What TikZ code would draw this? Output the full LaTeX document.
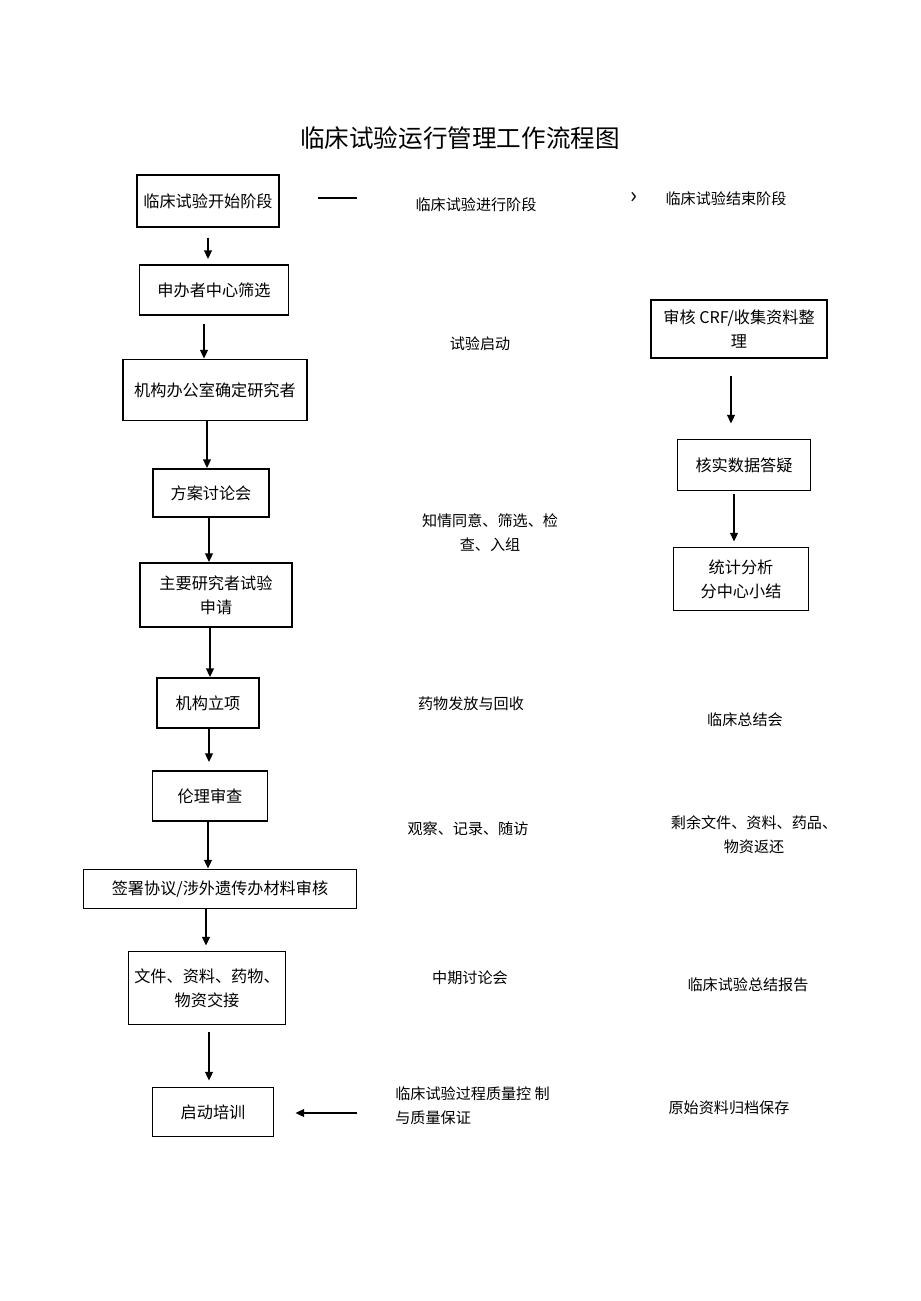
\documentclass[tikz,border=0pt]{standalone}
\usepackage{fontspec}
\newfontfamily\cjk{Noto Sans CJK SC}
\usetikzlibrary{arrows.meta}

\begin{document}
\begin{tikzpicture}[x=0.02cm,y=-0.02cm,font=\cjk,
  box/.style 2 args={draw,line width=1.1pt,align=center,inner sep=0pt,
    minimum width=#1cm,minimum height=#2cm,font=\cjk\fontsize{9.2}{13.6}\selectfont},
  note/.style={align=center,inner sep=0pt,font=\cjk\fontsize{8.6}{13.6}\selectfont},
  arr/.style={-{Triangle[width=4.5pt,length=5pt]},line width=0.9pt}]
\useasboundingbox (0,0) rectangle (920,1301);
\node[font=\cjk\fontsize{14}{16}\selectfont] (title) at (460,138) {临床试验运行管理工作流程图};
% left column
\node[box={2.84}{1.04}] (start) at (208,201) {临床试验开始阶段};
\node[box={2.98}{1.0}] (screen) at (214,290) {申办者中心筛选};
\node[box={3.68}{1.22}] (office) at (215,390) {机构办公室确定研究者};
\node[box={2.32}{0.96}] (plan) at (211,493) {方案讨论会};
\node[box={3.04}{1.28}] (apply) at (216,595) {主要研究者试验\\申请};
\node[box={2.04}{1.0}] (project) at (208,703) {机构立项};
\node[box={2.3}{1.0}] (ethics) at (210,796) {伦理审查};
\node[box={5.46}{0.78}] (sign) at (220,889) {签署协议/涉外遗传办材料审核};
\node[box={3.14}{1.46}] (handover) at (207,988) {文件、资料、药物、\\物资交接};
\node[box={2.42}{0.98}] (train) at (213,1112) {启动培训};
% middle column
\node[note] (run) at (476,205) {临床试验进行阶段};
\node[note] (kick) at (480,344) {试验启动};
\node[note] (consent) at (490,533) {知情同意、筛选、检\\查、入组};
\node[note] (drug) at (471,704) {药物发放与回收};
\node[note] (visit) at (468,829) {观察、记录、随访};
\node[note] (mid) at (470,978) {中期讨论会};
\node[note,align=left,anchor=west] (quality) at (395,1106) {临床试验过程质量控\ 制\\与质量保证};
% right column
\node[note] (finish) at (726,199) {临床试验结束阶段};
\node[note,font=\cjk\fontsize{13}{14}\selectfont] (chev) at (634,198) {›};
\node[box={3.52}{1.16}] (crf) at (739,329) {审核 CRF/收集资料整\\理};
\node[box={2.66}{1.02}] (verify) at (744,465) {核实数据答疑};
\node[box={2.7}{1.26}] (stat) at (741,579) {统计分析\\分中心小结};
\node[note] (meet) at (745,720) {临床总结会};
\node[note] (rest) at (754,835) {剩余文件、资料、药品、\\物资返还};
\node[note] (report) at (748,985) {临床试验总结报告};
\node[note] (archive) at (729,1108) {原始资料归档保存};

\coordinate (l1) at (318,198);
\coordinate (l2) at (357,198);
\draw[line width=1pt] (l1) -- (l2);
\coordinate (c1) at (357,1113);
\draw[arr,shorten >=0.42cm] (c1) -- (c1 -| train.east);

\draw[arr,shorten <=0.2cm,shorten >=0.1cm] (start.south) -- (start.south |- screen.north);
\draw[arr,shorten <=0.16cm] ([xshift=-0.2cm]screen.south) -- ([xshift=-0.2cm]screen.south |- office.north);
\draw[arr] ([xshift=-0.16cm]office.south) -- ([xshift=-0.16cm]office.south |- plan.north);
\draw[arr] ([xshift=-0.04cm]plan.south) -- ([xshift=-0.04cm]plan.south |- apply.north);
\draw[arr] ([xshift=-0.12cm]apply.south) -- ([xshift=-0.12cm]apply.south |- project.north);
\draw[arr,shorten >=0.16cm] ([xshift=0.02cm]project.south) -- ([xshift=0.02cm]project.south |- ethics.north);
\draw[arr] ([xshift=-0.04cm]ethics.south) -- ([xshift=-0.04cm]ethics.south |- sign.north);
\draw[arr,shorten >=0.1cm] ([xshift=-0.28cm]sign.south) -- ([xshift=-0.28cm]sign.south |- handover.north);
\draw[arr,shorten <=0.14cm,shorten >=0.12cm] ([xshift=0.04cm]handover.south) -- ([xshift=0.04cm]handover.south |- train.north);
\draw[arr,shorten <=0.34cm,shorten >=0.3cm] ([xshift=-0.16cm]crf.south) -- ([xshift=-0.16cm]crf.south |- verify.north);
\draw[arr,shorten <=0.06cm,shorten >=0.1cm] ([xshift=-0.2cm]verify.south) -- ([xshift=-0.2cm]verify.south |- stat.north);
\end{tikzpicture}
\end{document}
